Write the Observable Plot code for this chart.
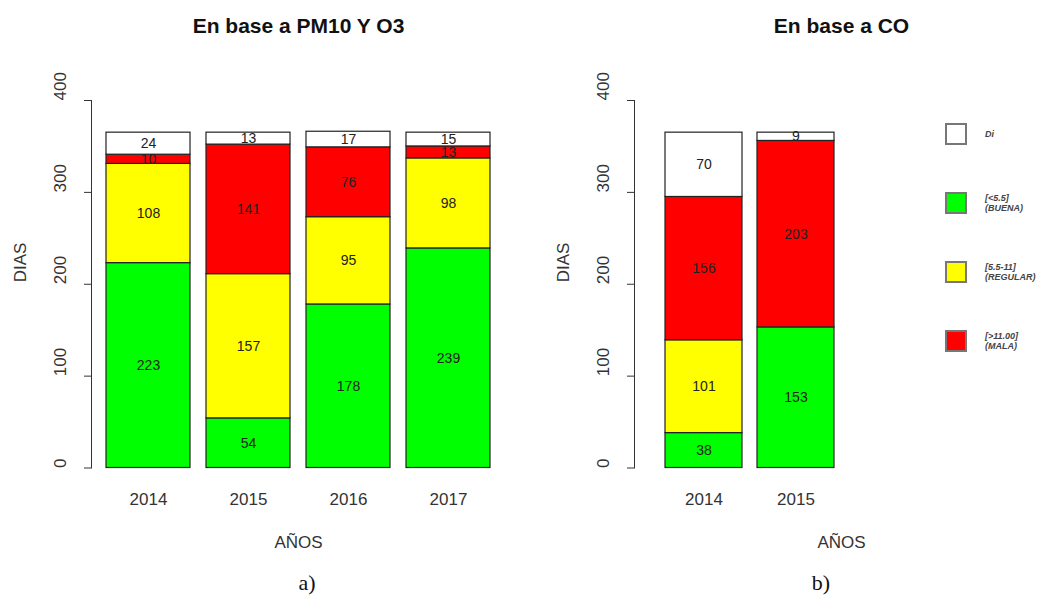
<!DOCTYPE html>
<html>
<head>
<meta charset="utf-8">
<script src="https://cdn.jsdelivr.net/npm/d3@7"></script>
<script src="https://cdn.jsdelivr.net/npm/@observablehq/plot@0.6"></script>
<style>
  html, body { margin: 0; padding: 0; background: #fff; }
  #wrap { position: relative; width: 1051px; height: 602px; overflow: hidden; font-family: "Liberation Sans", Arial, sans-serif; }
  #wrap svg { position: absolute; left: 0; top: 0; background: transparent; }
  .lbl { position: absolute; font-family: "Liberation Serif", "DejaVu Serif", serif; font-size: 22px; color: #111; transform: translate(-50%, -50%); }
  .leg { position: absolute; left: 945px; width: 120px; }
  .leg .box { position: absolute; left: 0; width: 18px; height: 18px; border: 2px solid #777; box-sizing: content-box; }
  .leg .txt { position: absolute; left: 40px; font-size: 9px; font-weight: bold; font-style: italic; color: #444; line-height: 10px; white-space: pre; transform: translateY(-50%); }
</style>
</head>
<body>
<div id="wrap"></div>
<script>
// ---- data ----
const categories = ["BUENA", "REGULAR", "MALA", "Di"];
const catColors = ["#00ff00", "#ffff00", "#ff0000", "#ffffff"];

const yearsA = ["2014", "2015", "2016", "2017"];
const buenaA = [223, 54, 178, 239];
const regularA = [108, 157, 95, 98];
const malaA = [10, 141, 76, 13];
const diA = [24, 13, 17, 15];

const yearsB = ["2014", "2015"];
const buenaB = [38, 153];
const regularB = [101, 0];
const malaB = [156, 203];
const diB = [70, 9];

const yTicks = [0, 100, 200, 300, 400];
const legendLabels = ["Di", "[<5.5]\n(BUENA)", "[5.5-11]\n(REGULAR)", "[>11.00]\n(MALA)"];
const legendCats = ["Di", "BUENA", "REGULAR", "MALA"];

function rows(years, series) {
  const out = [];
  years.forEach((y, i) => {
    categories.forEach((c, j) => out.push({ year: y, cat: c, value: series[j][i] }));
  });
  return out;
}
const dataA = rows(yearsA, [buenaA, regularA, malaA, diA]);
const dataB = rows(yearsB, [buenaB, regularB, malaB, diB]);

const W = 1051, H = 602;
const ink = "#333";

function panel({ data, years, title, marginLeft, marginRight, xOpts }) {
  return Plot.plot({
    width: W, height: H,
    marginTop: 100, marginBottom: 134.5,
    marginLeft, marginRight,
    style: { fontFamily: "'Liberation Sans', Arial, sans-serif", color: ink, background: "transparent", overflow: "visible" },
    x: { domain: years, axis: null, ...xOpts },
    y: { domain: [0, 400], label: null, axis: null },
    color: { domain: categories, range: catColors },
    marks: [
      Plot.barY(data, Plot.stackY({ x: "year", y: "value", fill: "cat", stroke: "#222", strokeWidth: 1.2, inset: 0 })),
      Plot.text(data.filter(d => d.value > 0), Plot.stackY({ x: "year", y: "value", z: "cat", text: d => String(d.value), fontSize: 14, fill: "#222" })),
      Plot.frame({ anchor: "left", stroke: ink }),
      Plot.axisY({ ticks: yTicks, tickSize: 7, tickFormat: () => "", stroke: ink }),
      Plot.text(yTicks, { y: d => d, text: d => String(d), frameAnchor: "left", dx: -31, rotate: -90, fontSize: 17, fill: ink }),
      Plot.text(years, { x: d => d, text: d => d, frameAnchor: "bottom", dy: 37, fontSize: 17, fill: ink }),
      Plot.text(["AÑOS"], { frameAnchor: "bottom", dy: 80, fontSize: 17, fill: ink }),
      Plot.text(["DIAS"], { frameAnchor: "left", dx: -71, dy: -2, rotate: -90, fontSize: 17, fill: ink }),
      Plot.text([title], { frameAnchor: "top", dy: -82, fontSize: 21, fontWeight: "bold", fill: "#111" })
    ]
  });
}

const wrap = document.getElementById("wrap");
wrap.appendChild(panel({
  data: dataA, years: yearsA, title: "En base a PM10 Y O3",
  marginLeft: 91, marginRight: 546,
  xOpts: { paddingInner: 0.16, paddingOuter: 0.15, align: 0.5 }
}));
wrap.appendChild(panel({
  data: dataB, years: yearsB, title: "En base a CO",
  marginLeft: 634, marginRight: 3,
  xOpts: { paddingInner: 0.158, paddingOuter: 1.329, align: 0.1268 }
}));

// panel letters
[["a)", 307, 583], ["b)", 821, 583]].forEach(([t, x, y]) => {
  const d = document.createElement("div");
  d.className = "lbl"; d.textContent = t;
  d.style.left = x + "px"; d.style.top = y + "px";
  wrap.appendChild(d);
});

// legend
const leg = document.createElement("div");
leg.className = "leg";
const legTops = [123, 192, 261, 330];
legendCats.forEach((c, i) => {
  const b = document.createElement("div");
  b.className = "box";
  b.style.top = legTops[i] + "px";
  b.style.background = catColors[categories.indexOf(c)];
  leg.appendChild(b);
  const t = document.createElement("div");
  t.className = "txt";
  t.style.top = (legTops[i] + 11) + "px";
  t.textContent = legendLabels[i];
  leg.appendChild(t);
});
wrap.appendChild(leg);
</script>
</body>
</html>
